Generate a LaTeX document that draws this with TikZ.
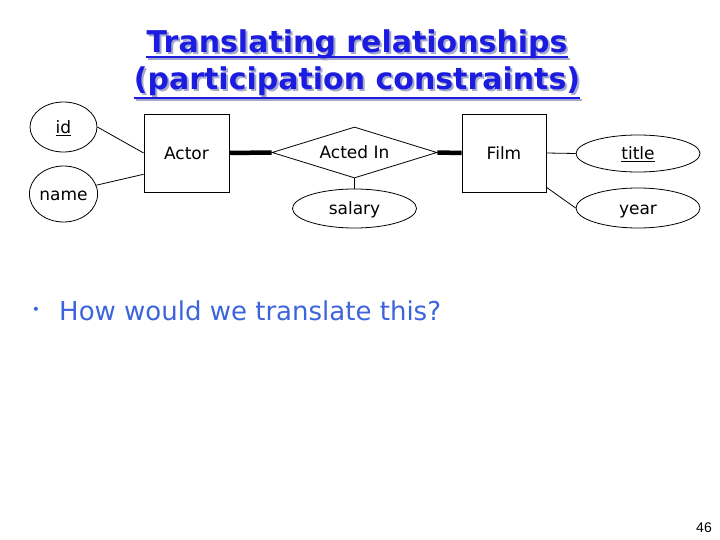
\documentclass[tikz,border=0pt]{standalone}
\usepackage{fontspec}
\setmainfont{DejaVu Sans}
\newfontfamily\pgnumfont{Liberation Sans}
\usetikzlibrary{shapes.geometric,calc}
\definecolor{titleblue}{RGB}{28,28,225}
\definecolor{shadowc}{RGB}{165,170,205}
\definecolor{bodyblue}{RGB}{60,100,220}
\tikzset{
  erlabel/.style={text height=12.4pt,text depth=0.2pt,font=\fontsize{17}{20}\selectfont},
  entity/.style={draw,line width=0.8pt,minimum width=85pt,minimum height=78pt,inner sep=0pt,erlabel},
  relship/.style={draw,line width=0.8pt,diamond,aspect=3.2,minimum width=165pt,minimum height=51pt,inner sep=0pt,erlabel},
  attr/.style={draw,line width=0.8pt,ellipse,inner sep=0pt,erlabel},
  conn/.style={line width=0.8pt},
  thick conn/.style={line width=4.5pt},
  titletext/.style={inner sep=0pt,anchor=base,font=\bfseries\fontsize{30}{36}\selectfont},
  uline/.style={line width=2.5pt},
}
\begin{document}
\begin{tikzpicture}[x=1pt,y=-1pt]
\useasboundingbox (0,0) rectangle (720,540);
% title shadow
\node[titletext,text=shadowc] (s1) at (359,55) {Translating relationships};
\node[titletext,text=shadowc] (s2) at (359,92) {(participation constraints)};
\draw[uline,shadowc] ($(s1.base west)+(0,4)$) -- ($(s1.base east)+(0,4)$);
\draw[uline,shadowc] ($(s2.base west)+(0,8)$) -- ($(s2.base east)+(0,8)$);
% title
\node[titletext,text=titleblue] (t1) at (357,53) {Translating relationships};
\node[titletext,text=titleblue] (t2) at (357,90) {(participation constraints)};
\draw[uline,titleblue] ($(t1.base west)+(0,4)$) -- ($(t1.base east)+(0,4)$);
\draw[uline,titleblue] ($(t2.base west)+(0,8)$) -- ($(t2.base east)+(0,8)$);
% ER diagram
\node[entity] (actor) at (186.5,153) {Actor};
\node[entity,minimum width=84pt] (film) at (504,153) {Film};
\node[relship] (acted) at (354.5,152.5) {Acted In};
\node[attr,minimum width=67pt,minimum height=50pt] (id) at (63.5,127) {\underline{id}};
\node[attr,minimum width=67pt,minimum height=56pt] (name) at (63.5,194) {name};
\node[attr,minimum width=124pt,minimum height=39pt] (salary) at (354.5,208.5) {salary};
\node[attr,minimum width=124pt,minimum height=37pt] (title) at (638,153.5) {\underline{title}};
\node[attr,minimum width=124pt,minimum height=40pt] (year) at (638,208) {year};
\draw[conn] (id.east) -- (actor.west);
\draw[conn] (name.15) -- ($(actor.west)!0.54!(actor.south west)$);
\draw[thick conn] (actor.east) -- (acted.west);
\draw[thick conn] (acted.east) -- (film.west);
\draw[conn] (acted.south) -- (salary.north);
\draw[conn] (film.east) -- (title.west);
\draw[conn] ($(film.east)!0.87!(film.south east)$) -- (year.west);
% bullet text
\node[inner sep=0pt,text=bodyblue,font=\fontsize{14}{16}\selectfont] (bul) at (36,311) {•};
\node[inner sep=0pt,anchor=base west,text=bodyblue,font=\fontsize{26}{30}\selectfont] (q) at (59,320) {How would we translate this?};
% page number
\node[inner sep=0pt,font=\pgnumfont\fontsize{14}{16}\selectfont] (pg) at (704,528) {46};
\end{tikzpicture}
\end{document}
